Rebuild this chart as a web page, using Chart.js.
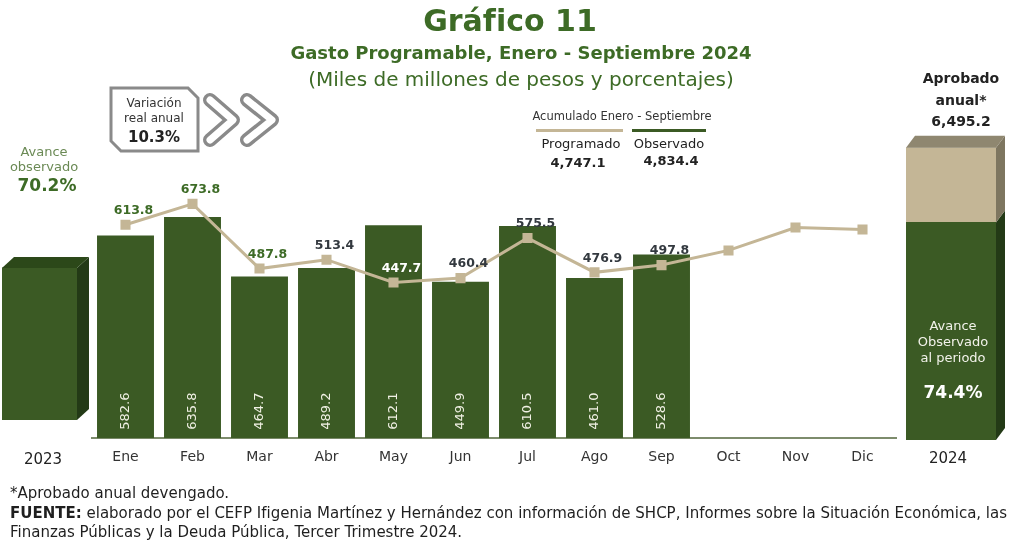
<!DOCTYPE html>
<html lang="es">
<head>
<meta charset="utf-8">
<title>Gráfico 11</title>
<script src="https://cdn.jsdelivr.net/npm/chart.js@4.4.1/dist/chart.umd.min.js"></script>
<style>
  html, body { margin: 0; padding: 0; background: #fff; }
  body { width: 1016px; height: 544px; position: relative; overflow: hidden; font-family: "DejaVu Sans", sans-serif; }
  canvas { position: absolute; }
  .t { position: absolute; transform: translate(-50%, -50%); white-space: nowrap; text-align: center; line-height: 1; }
  .foot { position: absolute; left: 10px; white-space: nowrap; font-size: 15px; color: #1f1f1f; line-height: 1; }
</style>
</head>
<body>
<canvas id="main" width="1016" height="544" style="left:0;top:0"></canvas>
<canvas id="left" width="100" height="315" style="left:0;top:105px"></canvas>
<canvas id="right" width="126" height="315" style="left:890px;top:125px"></canvas>

<!-- titulos -->
<div class="t" style="left:510px;top:21px;font-size:30px;font-weight:bold;color:#3d6b26">Gráfico 11</div>
<div class="t" style="left:521px;top:53px;font-size:18px;font-weight:bold;color:#3d6b26">Gasto Programable, Enero - Septiembre 2024</div>
<div class="t" style="left:521px;top:79px;font-size:20px;color:#3d6b26">(Miles de millones de pesos y porcentajes)</div>

<!-- variacion real anual -->
<svg width="1016" height="544" style="position:absolute;left:0;top:0">
  <polygon points="111,88 188,88 198,98 198,151 121,151 111,141" fill="#fff" stroke="#8a8a8a" stroke-width="3"/>
  <polyline points="210,100 233,120 210,140" fill="none" stroke="#8a8a8a" stroke-width="14" stroke-linecap="round" stroke-linejoin="round"/>
  <polyline points="210,100 233,120 210,140" fill="none" stroke="#fff" stroke-width="7" stroke-linecap="round" stroke-linejoin="round"/>
  <polyline points="247,100 272,120 247,140" fill="none" stroke="#8a8a8a" stroke-width="14" stroke-linecap="round" stroke-linejoin="round"/>
  <polyline points="247,100 272,120 247,140" fill="none" stroke="#fff" stroke-width="7" stroke-linecap="round" stroke-linejoin="round"/>
</svg>
<div class="t" style="left:154px;top:103px;font-size:12px;color:#333">Variación</div>
<div class="t" style="left:154px;top:118px;font-size:12px;color:#333">real anual</div>
<div class="t" style="left:154px;top:137px;font-size:15px;font-weight:bold;color:#222">10.3%</div>

<!-- leyenda acumulado -->
<div class="t" style="left:622px;top:117px;font-size:11.5px;color:#333">Acumulado Enero - Septiembre</div>
<div style="position:absolute;left:536px;top:129px;width:87px;height:3px;background:#c4b696"></div>
<div style="position:absolute;left:632px;top:129px;width:74px;height:3px;background:#3b5a24"></div>
<div class="t" style="left:581px;top:143px;font-size:13px;color:#222">Programado</div>
<div class="t" style="left:669px;top:143px;font-size:13px;color:#222">Observado</div>
<div class="t" style="left:578px;top:162px;font-size:13px;font-weight:bold;color:#222">4,747.1</div>
<div class="t" style="left:671px;top:160px;font-size:13px;font-weight:bold;color:#222">4,834.4</div>

<!-- 2023 -->
<div class="t" style="left:44px;top:151px;font-size:13px;color:#6b8a55">Avance</div>
<div class="t" style="left:44px;top:166px;font-size:13px;color:#6b8a55">observado</div>
<div class="t" style="left:47px;top:185px;font-size:17px;font-weight:bold;color:#3d6b26">70.2%</div>
<div class="t" style="left:43px;top:459px;font-size:15px;color:#222">2023</div>

<!-- 2024 -->
<div class="t" style="left:961px;top:78px;font-size:14px;font-weight:bold;color:#222">Aprobado</div>
<div class="t" style="left:961px;top:100px;font-size:14px;font-weight:bold;color:#222">anual*</div>
<div class="t" style="left:961px;top:121px;font-size:14px;font-weight:bold;color:#222">6,495.2</div>
<div class="t" style="left:953px;top:325px;font-size:13px;color:#f2f2ea">Avance</div>
<div class="t" style="left:953px;top:341px;font-size:13px;color:#f2f2ea">Observado</div>
<div class="t" style="left:953px;top:357px;font-size:13px;color:#f2f2ea">al periodo</div>
<div class="t" style="left:953px;top:392px;font-size:17px;font-weight:bold;color:#fff">74.4%</div>
<div class="t" style="left:948px;top:458px;font-size:15px;color:#222">2024</div>

<!-- notas -->
<div class="foot" style="top:486px">*Aprobado anual devengado.</div>
<div class="foot" style="top:506px"><b>FUENTE:</b> elaborado por el CEFP Ifigenia Martínez y Hernández con información de SHCP, Informes sobre la Situación Económica, las</div>
<div class="foot" style="top:525px">Finanzas Públicas y la Deuda Pública, Tercer Trimestre 2024.</div>

<script>
const months = ['Ene', 'Feb', 'Mar', 'Abr', 'May', 'Jun', 'Jul', 'Ago', 'Sep', 'Oct', 'Nov', 'Dic'];
const observado = [582.6, 635.8, 464.7, 489.2, 612.1, 449.9, 610.5, 461.0, 528.6, null, null, null];
const programado = [613.8, 673.8, 487.8, 513.4, 447.7, 460.4, 575.5, 476.9, 497.8, 540, 606, 600];
const programadoLabeled = 9; // solo Ene-Sep llevan etiqueta
const year2023 = ['2023'];
const observado2023 = [3380];
const year2024 = ['2024'];
const aprobado2024 = [6495.2];
const observado2024 = [4834.4];

const GREEN = '#3b5a24';
const TAN = '#c4b696';
const progLabelColors = ['#3d6b26', '#3d6b26', '#3d6b26', '#33393f', '#ffffff', '#33393f', '#33393f', '#33393f', '#33393f'];

Chart.defaults.font.family = '"DejaVu Sans", sans-serif';
Chart.defaults.animation = false;

// etiquetas de valores en la grafica mensual
const valueLabels = {
  id: 'valueLabels',
  afterDatasetsDraw(chart) {
    const ctx = chart.ctx;
    const pts = chart.getDatasetMeta(0).data;
    const bars = chart.getDatasetMeta(1).data;
    ctx.save();
    bars.forEach((bar, i) => {
      if (observado[i] == null) return;
      ctx.save();
      ctx.translate(bar.x, bar.base - 27);
      ctx.rotate(-Math.PI / 2);
      ctx.font = '13px "DejaVu Sans"';
      ctx.fillStyle = '#f0f0e4';
      ctx.textAlign = 'center';
      ctx.textBaseline = 'middle';
      ctx.fillText(observado[i].toFixed(1), 0, 0);
      ctx.restore();
    });
    ctx.font = 'bold 12.5px "DejaVu Sans"';
    ctx.textAlign = 'center';
    ctx.textBaseline = 'middle';
    pts.forEach((p, i) => {
      if (i >= programadoLabeled) return;
      ctx.fillStyle = progLabelColors[i];
      ctx.fillText(programado[i].toFixed(1), p.x + 8, p.y - 14);
    });
    ctx.restore();
  }
};

new Chart(document.getElementById('main'), {
  data: {
    labels: months,
    datasets: [{
      type: 'line',
      label: 'Programado',
      data: programado,
      borderColor: TAN,
      backgroundColor: TAN,
      borderWidth: 3,
      pointStyle: 'rect',
      pointRadius: 5,
      tension: 0,
      order: 0
    }, {
      type: 'bar',
      label: 'Observado',
      data: observado,
      backgroundColor: GREEN,
      barPercentage: 0.85,
      categoryPercentage: 1,
      order: 1
    }]
  },
  options: {
    responsive: false,
    layout: { padding: { left: 92, right: 120, top: 160, bottom: 67 } },
    plugins: { legend: { display: false }, tooltip: { enabled: false } },
    scales: {
      x: {
        grid: { display: false, drawTicks: false },
        border: { display: true, color: '#7d8c6c', width: 2 },
        ticks: { color: '#333', font: { size: 14 }, padding: 11 }
      },
      y: { display: false, min: 0, max: 800 }
    }
  },
  plugins: [valueLabels]
});

// caras superior y lateral de las cajas 2023 / 2024
const box3d = {
  id: 'box3d',
  afterDatasetsDraw(chart, args, opts) {
    const ctx = chart.ctx;
    const n = chart.data.datasets.length;
    ctx.save();
    chart.data.datasets.forEach((ds, di) => {
      chart.getDatasetMeta(di).data.forEach(el => {
        const { x, y, base, width } = el.getProps(['x', 'y', 'base', 'width'], true);
        const r = x + width / 2, l = x - width / 2;
        ctx.fillStyle = opts.side[di];
        ctx.beginPath();
        ctx.moveTo(r, y);
        ctx.lineTo(r + opts.dx, y - opts.dy);
        ctx.lineTo(r + opts.dx, base - opts.dy);
        ctx.lineTo(r, base);
        ctx.closePath();
        ctx.fill();
        if (di === n - 1) {
          ctx.fillStyle = opts.top[di];
          ctx.beginPath();
          ctx.moveTo(l, y);
          ctx.lineTo(l + opts.dx, y - opts.dy);
          ctx.lineTo(r + opts.dx, y - opts.dy);
          ctx.lineTo(r, y);
          ctx.closePath();
          ctx.fill();
        }
      });
    });
    ctx.restore();
  }
};

const sideOptions = (pad, faces) => ({
  responsive: false,
  layout: { padding: pad },
  plugins: { legend: { display: false }, tooltip: { enabled: false }, box3d: faces },
  scales: {
    x: { display: false, stacked: true },
    y: { display: false, stacked: true, min: 0, max: 7000 }
  }
});

new Chart(document.getElementById('left'), {
  type: 'bar',
  data: {
    labels: year2023,
    datasets: [{ data: observado2023, backgroundColor: GREEN, barPercentage: 1, categoryPercentage: 1 }]
  },
  options: sideOptions({ left: 2, right: 23, top: 0, bottom: 0 },
    { dx: 12, dy: 11, side: ['#233a16'], top: ['#2c4819'] }),
  plugins: [box3d]
});

new Chart(document.getElementById('right'), {
  type: 'bar',
  data: {
    labels: year2024,
    datasets: [
      { data: observado2024, backgroundColor: GREEN, barPercentage: 1, categoryPercentage: 1 },
      { data: aprobado2024.map((v, i) => v - observado2024[i]), backgroundColor: TAN, barPercentage: 1, categoryPercentage: 1 }
    ]
  },
  options: sideOptions({ left: 16, right: 20, top: 0, bottom: 0 },
    { dx: 9, dy: 12, side: ['#233a16', '#7e7660'], top: ['#2c4819', '#8f8770'] }),
  plugins: [box3d]
});
</script>
</body>
</html>
